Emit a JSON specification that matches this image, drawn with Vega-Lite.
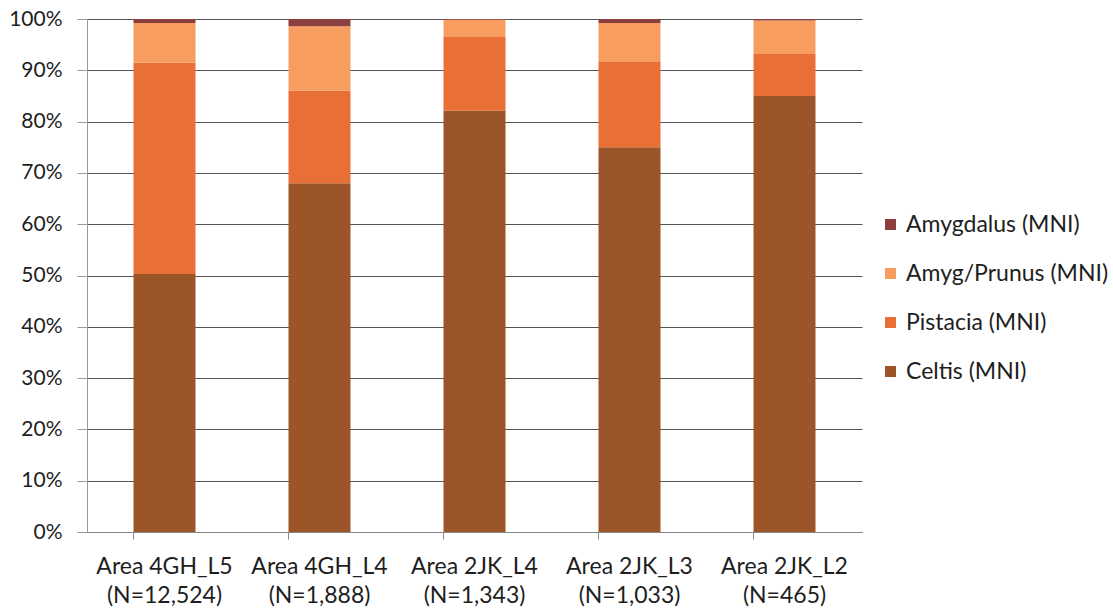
{
  "$schema": "https://vega.github.io/schema/vega-lite/v6.json",
  "width": 775,
  "height": 513,
  "autosize": {"type": "none"},
  "padding": {"left": 87, "top": 19, "right": 251, "bottom": 77},
  "background": "white",
  "config": {
    "view": {"stroke": null},
    "font": "Lato",
    "axis": {"labelFont": "Lato", "labelColor": "#1e1e1e", "labelFontSize": 21}
  },
  "data": {
    "values": [
      {"area": "Area 4GH_L5 (N=12,524)", "taxon": "Celtis (MNI)", "stack_rank": 1, "pct": 50.3},
      {"area": "Area 4GH_L5 (N=12,524)", "taxon": "Pistacia (MNI)", "stack_rank": 2, "pct": 41.2},
      {"area": "Area 4GH_L5 (N=12,524)", "taxon": "Amyg/Prunus (MNI)", "stack_rank": 3, "pct": 7.7},
      {"area": "Area 4GH_L5 (N=12,524)", "taxon": "Amygdalus (MNI)", "stack_rank": 4, "pct": 0.8},
      {"area": "Area 4GH_L4 (N=1,888)", "taxon": "Celtis (MNI)", "stack_rank": 1, "pct": 68.0},
      {"area": "Area 4GH_L4 (N=1,888)", "taxon": "Pistacia (MNI)", "stack_rank": 2, "pct": 18.0},
      {"area": "Area 4GH_L4 (N=1,888)", "taxon": "Amyg/Prunus (MNI)", "stack_rank": 3, "pct": 12.6},
      {"area": "Area 4GH_L4 (N=1,888)", "taxon": "Amygdalus (MNI)", "stack_rank": 4, "pct": 1.4},
      {"area": "Area 2JK_L4 (N=1,343)", "taxon": "Celtis (MNI)", "stack_rank": 1, "pct": 82.1},
      {"area": "Area 2JK_L4 (N=1,343)", "taxon": "Pistacia (MNI)", "stack_rank": 2, "pct": 14.4},
      {"area": "Area 2JK_L4 (N=1,343)", "taxon": "Amyg/Prunus (MNI)", "stack_rank": 3, "pct": 3.4},
      {"area": "Area 2JK_L4 (N=1,343)", "taxon": "Amygdalus (MNI)", "stack_rank": 4, "pct": 0.1},
      {"area": "Area 2JK_L3 (N=1,033)", "taxon": "Celtis (MNI)", "stack_rank": 1, "pct": 75.0},
      {"area": "Area 2JK_L3 (N=1,033)", "taxon": "Pistacia (MNI)", "stack_rank": 2, "pct": 16.6},
      {"area": "Area 2JK_L3 (N=1,033)", "taxon": "Amyg/Prunus (MNI)", "stack_rank": 3, "pct": 7.6},
      {"area": "Area 2JK_L3 (N=1,033)", "taxon": "Amygdalus (MNI)", "stack_rank": 4, "pct": 0.8},
      {"area": "Area 2JK_L2 (N=465)", "taxon": "Celtis (MNI)", "stack_rank": 1, "pct": 85.0},
      {"area": "Area 2JK_L2 (N=465)", "taxon": "Pistacia (MNI)", "stack_rank": 2, "pct": 8.2},
      {"area": "Area 2JK_L2 (N=465)", "taxon": "Amyg/Prunus (MNI)", "stack_rank": 3, "pct": 6.5},
      {"area": "Area 2JK_L2 (N=465)", "taxon": "Amygdalus (MNI)", "stack_rank": 4, "pct": 0.3}
    ]
  },
  "mark": {"type": "bar"},
  "encoding": {
    "x": {
      "field": "area",
      "type": "nominal",
      "sort": null,
      "title": null,
      "scale": {"paddingInner": 0.6, "paddingOuter": 0.3},
      "axis": {
        "labelAngle": 0,
        "labelExpr": "[slice(datum.label, 0, indexof(datum.label, ' (')), slice(datum.label, indexof(datum.label, ' (') + 1)]",
        "labelLineHeight": 29,
        "labelPadding": 16,
        "labelFontSize": 23,
        "bandPosition": 0,
        "ticks": true,
        "tickSize": 7,
        "tickColor": "#888888",
        "domainColor": "#888888",
        "grid": false
      }
    },
    "y": {
      "field": "pct",
      "type": "quantitative",
      "stack": "normalize",
      "title": null,
      "axis": {
        "format": ".0%",
        "values": [0, 0.1, 0.2, 0.3, 0.4, 0.5, 0.6, 0.7, 0.8, 0.9, 1.0],
        "grid": true,
        "gridColor": "#555555",
        "gridWidth": 1,
        "domainColor": "#999999",
        "tickColor": "#999999",
        "tickSize": 10,
        "labelPadding": 15,
        "labelFontSize": 21
      }
    },
    "order": {"field": "stack_rank", "type": "quantitative", "sort": "ascending"},
    "color": {
      "field": "taxon",
      "type": "nominal",
      "sort": ["Amygdalus (MNI)", "Amyg/Prunus (MNI)", "Pistacia (MNI)", "Celtis (MNI)"],
      "scale": {
        "domain": ["Amygdalus (MNI)", "Amyg/Prunus (MNI)", "Pistacia (MNI)", "Celtis (MNI)"],
        "range": ["#8c3f3f", "#f69d5f", "#e86f36", "#9b5529"]
      },
      "legend": {
        "title": null,
        "orient": "none",
        "legendX": 792,
        "legendY": 194,
        "symbolType": "square",
        "symbolSize": 121,
        "symbolStrokeWidth": 0,
        "labelFontSize": 23,
        "labelFont": "Lato",
        "labelColor": "#1e1e1e",
        "labelOffset": 4,
        "rowPadding": 25,
        "labelLimit": 250
      }
    }
  }
}
